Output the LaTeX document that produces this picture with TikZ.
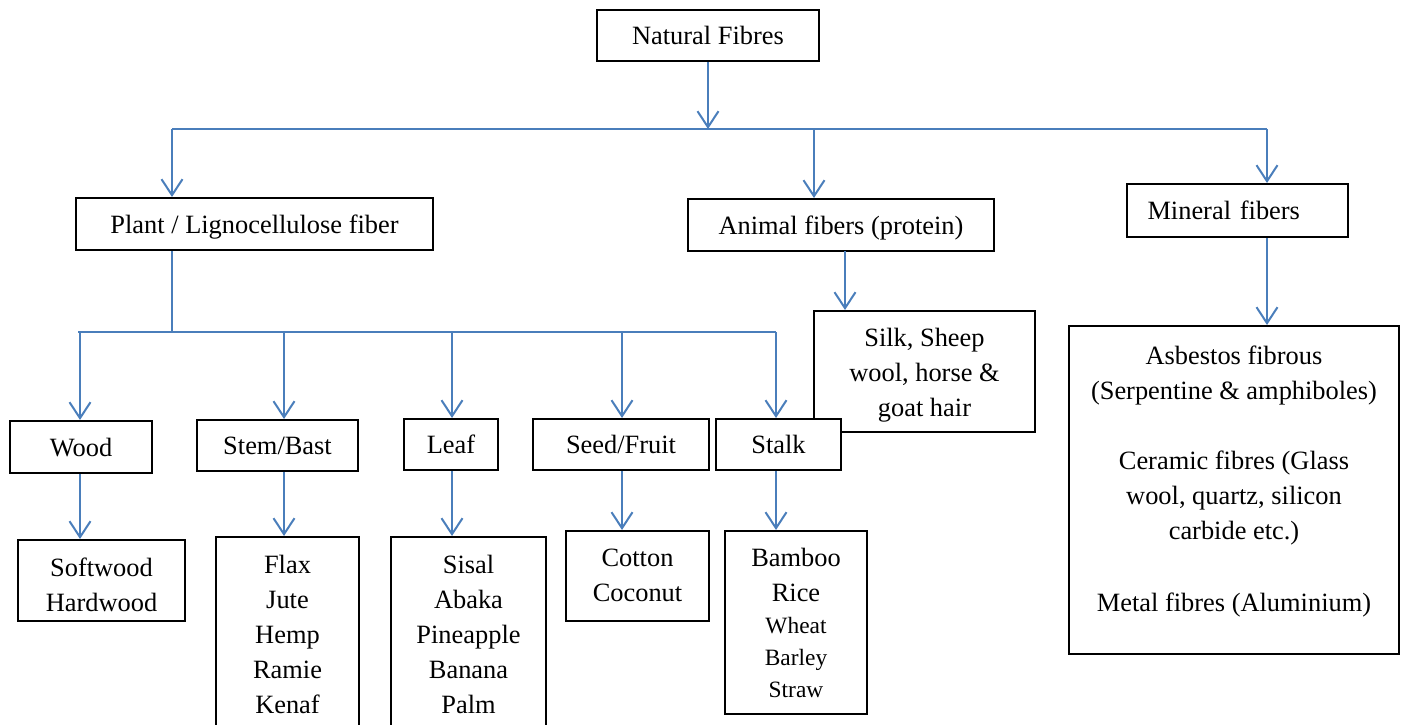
\documentclass[tikz,border=0pt]{standalone}
\usepackage{fontspec}
\setmainfont{Liberation Serif}
\usetikzlibrary{arrows.meta}
\definecolor{azul}{RGB}{74,126,187}
\newcommand{\fuentepeq}{\fontsize{11.7pt}{16pt}\selectfont}

\begin{document}
\begin{tikzpicture}[x=0.5pt, y=-0.5pt,
    caja/.style={draw, line width=1pt, fill=white, align=center, inner sep=0pt,
                 font=\fontsize{13.2pt}{17.5pt}\selectfont,
                 text height=10pt, text depth=1pt},
    lista/.style={draw, line width=1pt, fill=white, align=flush center, inner sep=0pt,
                  anchor=north, font=\fontsize{13.2pt}{17.5pt}\selectfont},
    flecha/.style={azul, line width=1pt, -{Straight Barb[length=8pt,width=10.5pt]}},
    linea/.style={azul, line width=1pt}]
  \useasboundingbox (0,0) rectangle (1403,724);
  \clip (0,0) rectangle (1403,724);
  % top
  \node[caja, minimum width=111pt, minimum height=25.5pt] (nf) at (708,35.5) {Natural Fibres};
  \node[caja, minimum width=178.5pt, minimum height=26pt] (pl) at (254.5,224) {Plant / Lignocellulose fiber};
  \node[caja, minimum width=153pt, minimum height=26pt] (an) at (841,225) {Animal fibers (protein)};
  \node[caja, minimum width=110.5pt, minimum height=26.5pt, text width=90pt, align=left] (mi) at (1237.5,210.5) {Mineral fibers};
  \node[lista, text width=165pt, text height=19pt, text depth=145pt] (ml) at (1234,325) {%
    Asbestos fibrous\\(Serpentine \& amphiboles)\\[17.5pt]
    Ceramic fibres (Glass\\wool, quartz, silicon\\carbide etc.)\\[18.5pt]
    Metal fibres (Aluminium)};
  \node[lista, text width=110.5pt, text height=17.5pt, text depth=43pt] (si) at (924.5,310) {%
    Silk, Sheep\\wool, horse \&\\goat hair};
  % plant parts
  \node[caja, minimum width=71pt, minimum height=26pt] (wo) at (81,447) {Wood};
  \node[caja, minimum width=80.5pt, minimum height=25.5pt] (st) at (277.5,445.5) {Stem/Bast};
  \node[caja, minimum width=47pt, minimum height=25.5pt] (le) at (451,444.5) {Leaf};
  \node[caja, minimum width=88pt, minimum height=25.5pt] (se) at (621,444.5) {Seed/Fruit};
  \node[caja, minimum width=62.5pt, minimum height=25.5pt] (sk) at (778.5,444.5) {Stalk};
  % lists
  \node[lista, text width=83.5pt, text height=18pt, text depth=22.5pt] (sw) at (101.5,539) {%
    Softwood\\Hardwood};
  \node[lista, text width=71.5pt, text height=18pt, text depth=100pt] (fl) at (287.5,536) {%
    Flax\\Jute\\Hemp\\Ramie\\Kenaf};
  \node[lista, text width=77.5pt, text height=18pt, text depth=100pt] (sa) at (468.5,536) {%
    Sisal\\Abaka\\Pineapple\\Banana\\Palm};
  \node[lista, text width=71.5pt, text height=17.5pt, text depth=27.5pt] (co) at (637.5,530) {%
    Cotton\\Coconut};
  \node[lista, text width=71pt, text height=17.5pt, text depth=74pt] (ba) at (796,530) {%
    Bamboo\\Rice\\[-1.5pt]{\fuentepeq Wheat}\\[-1.5pt]{\fuentepeq Barley}\\[-1.5pt]{\fuentepeq Straw}};
  % bus points
  \coordinate (b1) at (172,129);
  \coordinate (b2) at (814,129);
  \coordinate (b3) at (1267,129);
  \coordinate (a1) at (845,251);
  \coordinate (p0) at (172,332);
  \coordinate (p1) at (78,332);
  \coordinate (s1) at (80,332);
  \coordinate (s2) at (284,332);
  \coordinate (s3) at (452,332);
  \coordinate (s4) at (622,332);
  \coordinate (s5) at (776,332);
  % connectors
  \draw[flecha] (nf.south) -- (nf.south |- b1);
  \draw[linea] (b1) -- (b3);
  \draw[flecha] (b1) -- (b1 |- pl.north);
  \draw[flecha] (b2) -- (b2 |- an.north);
  \draw[flecha] (b3) -- (b3 |- mi.north);
  \draw[flecha] (b3 |- mi.south) -- (b3 |- ml.north);
  \draw[flecha] (a1) -- (a1 |- si.north);
  \draw[linea] (b1 |- pl.south) -- (p0);
  \draw[linea] (p1) -- (s5);
  \draw[flecha] (s1) -- (s1 |- wo.north);
  \draw[flecha] (s2) -- (s2 |- st.north);
  \draw[flecha] (s3) -- (s3 |- le.north);
  \draw[flecha] (s4) -- (s4 |- se.north);
  \draw[flecha] (s5) -- (s5 |- sk.north);
  \draw[flecha] (s1 |- wo.south) -- (s1 |- sw.north);
  \draw[flecha] (s2 |- st.south) -- (s2 |- fl.north);
  \draw[flecha] (s3 |- le.south) -- (s3 |- sa.north);
  \draw[flecha] (s4 |- se.south) -- (s4 |- co.north);
  \draw[flecha] (s5 |- sk.south) -- (s5 |- ba.north);
\end{tikzpicture}
\end{document}
